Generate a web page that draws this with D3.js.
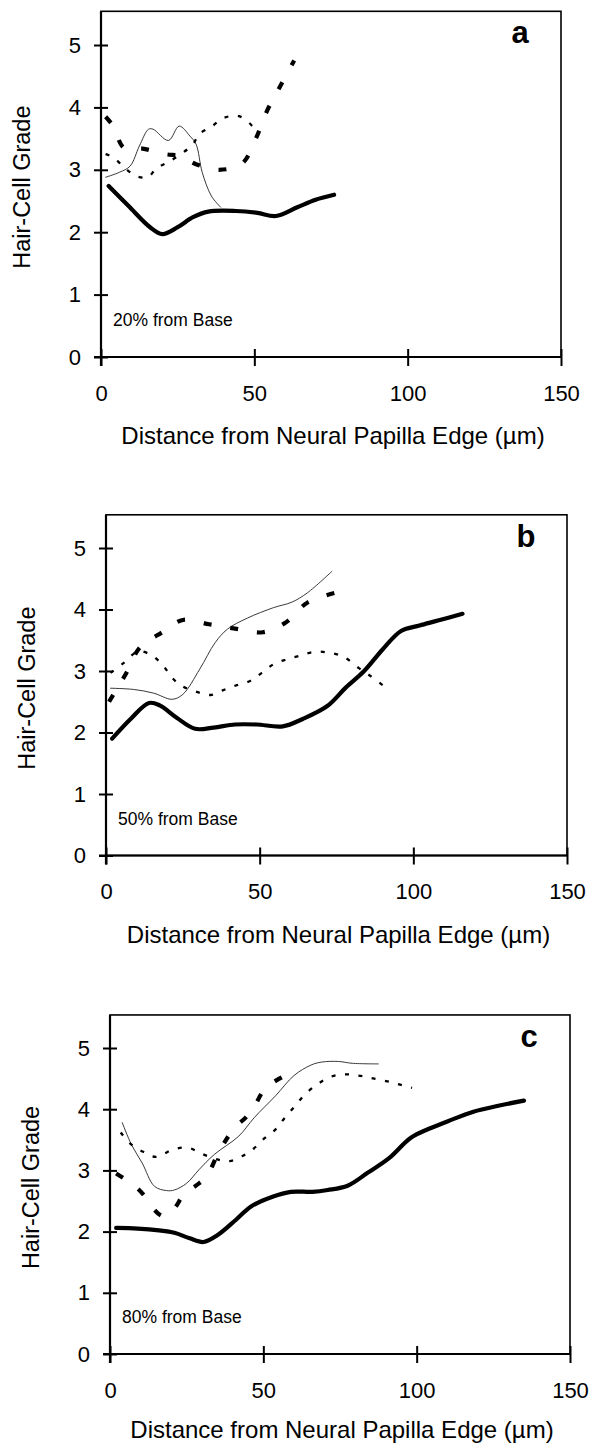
<!DOCTYPE html>
<html>
<head>
<meta charset="utf-8">
<script src="https://cdn.jsdelivr.net/npm/d3@7"></script>
<style>
  html, body { margin: 0; padding: 0; background: #fff; }
  svg { display: block; }
  text { font-family: "Liberation Sans", Arial, Helvetica, sans-serif; fill: #000; }
</style>
</head>
<body>
<svg id="chart" width="593" height="1445"></svg>
<script>
// ---------- data ----------
const xTicks = [0, 50, 100, 150];
const yTicks = [0, 1, 2, 3, 4, 5];
const xDomain = [0, 150];
const yDomainMax = 5.54;
const panelLetters = ["a", "b", "c"];
const panelNotes = ["20% from Base", "50% from Base", "80% from Base"];
const xTitle = "Distance from Neural Papilla Edge (µm)";
const yTitle = "Hair-Cell Grade";

// panel a (20% from base)
const aThick = [[2.5,2.74],[9,2.42],[16,2.08],[20,1.97],[25,2.08],[30,2.24],[35,2.33],[44,2.34],[51,2.31],[57,2.26],[64,2.4],[70,2.52],[76,2.6]];
const aThin = [[1.5,2.88],[6,2.96],[9.5,3.06],[12.5,3.38],[15.5,3.65],[17,3.65],[22,3.47],[25.5,3.7],[29,3.54],[31,3.41],[33,2.96],[36,2.58],[39,2.4]];
const aDashed = [[1.5,3.85],[4,3.7],[7.5,3.35],[13.5,3.34],[21,3.25],[26,3.22],[31,3.09],[38.5,3.0],[46,3.1],[50.5,3.5],[54,3.93],[58,4.3],[63,4.75]];
const aDotted = [[1.5,3.25],[4,3.2],[8,3.02],[11.5,2.9],[15.3,2.88],[18,3.02],[21.8,3.12],[26,3.25],[30,3.41],[32,3.57],[36,3.69],[40,3.83],[45,3.86],[49.5,3.69],[51,3.55]];

// panel b (50% from base)
const bThick = [[2,1.9],[8,2.22],[14,2.48],[17.5,2.44],[23,2.24],[29,2.06],[35,2.08],[42,2.13],[49,2.13],[57.5,2.1],[64,2.22],[72,2.43],[78,2.73],[84,3.0],[90,3.35],[96,3.65],[102,3.74],[108,3.82],[116,3.93]];
const bThin = [[1.5,2.72],[9,2.7],[15.5,2.64],[21.5,2.54],[25,2.62],[30.5,3.03],[35.5,3.46],[39.5,3.68],[46,3.86],[54.5,4.03],[60.5,4.12],[65.5,4.27],[73.5,4.62]];
const bDashed = [[1,2.5],[4,2.75],[7,3.0],[10.5,3.35],[14,3.5],[18,3.62],[25,3.83],[33.5,3.76],[42,3.69],[51,3.63],[58.5,3.79],[65.5,4.11],[74.5,4.27]];
const bDotted = [[1.5,2.97],[6,3.14],[10.5,3.32],[15,3.25],[18.7,3.08],[21.5,2.89],[24.6,2.76],[29.5,2.66],[34,2.61],[38.2,2.69],[42.6,2.77],[47,2.84],[50.7,2.97],[54.5,3.11],[58.8,3.19],[63.2,3.25],[67.5,3.31],[72.4,3.3],[77.3,3.23],[82.2,3.05],[86,2.92],[90,2.77]];

// panel c (80% from base)
const cThick = [[2,2.06],[9,2.05],[16,2.02],[21,1.98],[26,1.89],[30.5,1.83],[35,1.94],[41,2.19],[46,2.41],[53,2.57],[59,2.65],[66,2.65],[71,2.68],[77.5,2.75],[84,2.96],[91,3.2],[98,3.53],[104,3.68],[110,3.8],[118.5,3.96],[127,4.06],[135,4.14]];
const cThin = [[4,3.78],[7,3.42],[10.5,3.12],[14.5,2.74],[18.5,2.67],[21,2.68],[25,2.79],[29,3.01],[34,3.26],[42,3.56],[47,3.86],[54,4.22],[60,4.55],[65.5,4.72],[69,4.77],[74.5,4.78],[79,4.75],[87.5,4.74]];
const cDashed = [[2,2.95],[4.5,2.87],[8,2.75],[11,2.6],[14,2.38],[17.5,2.25],[21,2.38],[24,2.6],[28,2.75],[31.5,2.9],[35,3.25],[38.5,3.55],[41,3.72],[44,3.85],[47,4.04],[50,4.3],[53,4.43],[57,4.55],[61,4.67]];
const cDotted = [[3.5,3.62],[7,3.42],[11,3.3],[15,3.22],[20.5,3.34],[25.5,3.37],[30,3.27],[35,3.18],[39,3.15],[43,3.23],[46.7,3.35],[50.5,3.53],[54,3.67],[57,3.86],[60.3,4.05],[63.5,4.24],[68,4.42],[72,4.53],[76.5,4.57],[81,4.55],[85,4.51],[90,4.46],[94,4.41],[98.5,4.35]];

const panelSeries = [
  [aThick, aThin, aDashed, aDotted],
  [bThick, bThin, bDashed, bDotted],
  [cThick, cThin, cDashed, cDotted]
];

// ---------- layout ----------
const layouts = [
  {left: 101, right: 561, y0: 357, y5: 45},
  {left: 106, right: 567, y0: 855.5, y5: 548},
  {left: 110, right: 570, y0: 1354, y5: 1048}
];
const styles = [
  {width: 4.2, dash: null, color: "#000", cap: "round"},
  {width: 0.9, dash: null, color: "#222", cap: "round"},
  {width: 4.2, dash: "8,19", color: "#000", cap: "butt"},
  {width: 2.3, dash: "4,9.5", color: "#000", cap: "butt"}
];

const svg = d3.select("#chart");
const H = 1445;

layouts.forEach((L, i) => {
  const x = d3.scaleLinear().domain(xDomain).range([L.left, L.right]);
  const y = d3.scaleLinear().domain([0, 5]).range([L.y0, L.y5]);
  const top = y(yDomainMax);
  const g = svg.append("g");

  // frame
  g.append("rect")
    .attr("x", L.left).attr("y", top)
    .attr("width", L.right - L.left).attr("height", L.y0 - top)
    .attr("fill", "none").attr("stroke", "#000").attr("stroke-width", 1.6);

  // x axis
  const xa = g.append("g").attr("transform", `translate(0,${L.y0})`)
    .call(d3.axisBottom(x).tickValues(xTicks).tickFormat(d3.format("d")).tickSizeInner(8).tickSizeOuter(0));
  xa.select(".domain").attr("stroke-width", 2.2).attr("d", `M${L.left - 7},0H${L.right}`);
  xa.selectAll(".tick line").attr("y1", -8).attr("y2", 9).attr("stroke-width", 2);
  xa.selectAll(".tick text").attr("y", 28).attr("font-size", 22);

  // y axis
  const ya = g.append("g").attr("transform", `translate(${L.left},0)`)
    .call(d3.axisLeft(y).tickValues(yTicks).tickFormat(d3.format("d")).tickSizeInner(7).tickSizeOuter(0));
  ya.select(".domain").attr("stroke-width", 2.2).attr("d", `M0,${top}V${L.y0 + 9}`);
  ya.selectAll(".tick line").attr("x1", 7).attr("x2", -7).attr("stroke-width", 2);
  ya.selectAll(".tick text").attr("x", -20).attr("font-size", 22);
  svg.selectAll(".tick text").attr("font-family", "Liberation Sans, Arial, sans-serif");

  // titles
  g.append("text")
    .attr("x", (L.left + L.right) / 2 + 2).attr("y", Math.min(L.y0 + 87, H - 7))
    .attr("text-anchor", "middle").attr("font-size", 24)
    .text(xTitle);
  g.append("text")
    .attr("transform", `translate(${L.left - 79},${(L.y0 + top) / 2 + 3}) rotate(-90)`)
    .attr("text-anchor", "middle").attr("dominant-baseline", "central")
    .attr("font-size", 23.5)
    .text(yTitle);

  // panel letter and note
  g.append("text")
    .attr("x", L.right - 41).attr("y", top + 32)
    .attr("text-anchor", "middle").attr("font-size", 31).attr("font-weight", "bold")
    .text(panelLetters[i]);
  g.append("text")
    .attr("x", L.left + 12).attr("y", L.y0 - 31)
    .attr("font-size", 17.5)
    .text(panelNotes[i]);

  // series
  const line = d3.line().x(d => x(d[0])).y(d => y(d[1])).curve(d3.curveCatmullRom.alpha(0.5));
  panelSeries[i].forEach((data, k) => {
    const s = styles[k];
    g.append("path")
      .datum(data)
      .attr("d", line)
      .attr("fill", "none")
      .attr("stroke", s.color)
      .attr("stroke-width", s.width)
      .attr("stroke-linecap", s.cap)
      .attr("stroke-linejoin", "round")
      .attr("stroke-dasharray", s.dash);
  });
});
</script>
</body>
</html>
